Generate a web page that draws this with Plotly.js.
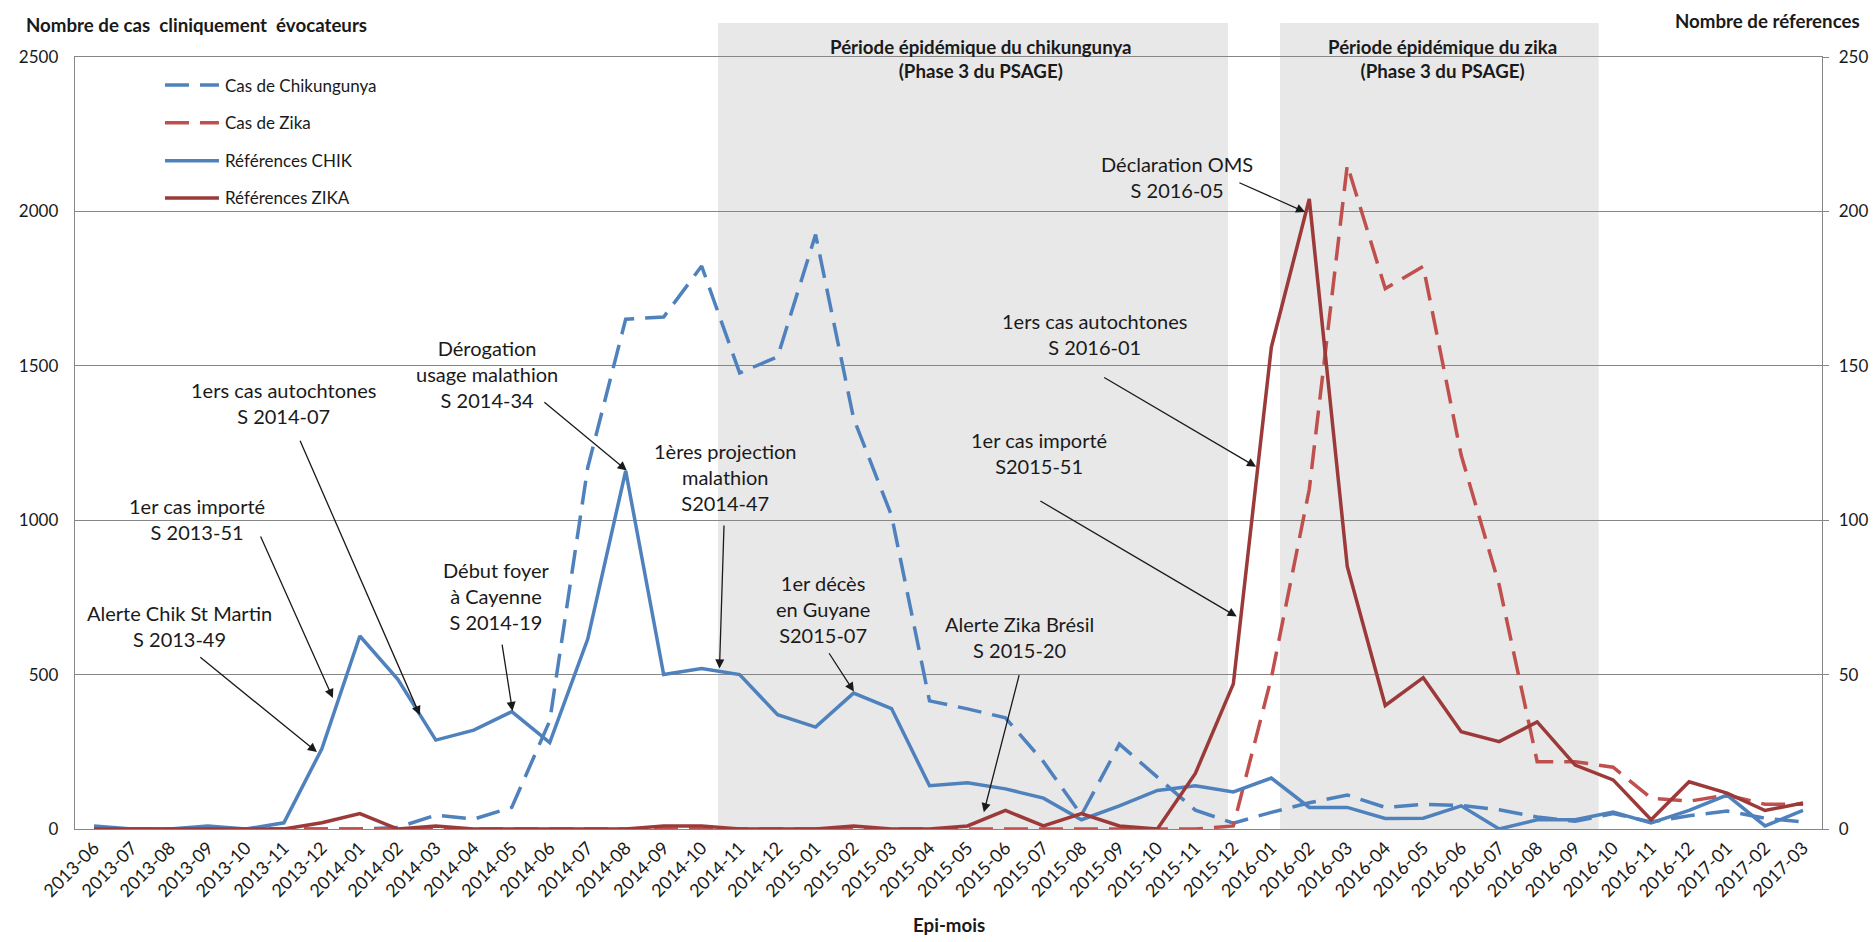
<!DOCTYPE html>
<html><head><meta charset="utf-8">
<script src="https://cdn.plot.ly/plotly-3.0.1.min.js"></script>
<style>html,body{margin:0;padding:0;background:#fff}</style>
</head><body><div id="chart" style="width:1875px;height:942px"></div>
<script>
const months = ['2013-06','2013-07','2013-08','2013-09','2013-10','2013-11','2013-12',
  '2014-01','2014-02','2014-03','2014-04','2014-05','2014-06','2014-07','2014-08','2014-09','2014-10','2014-11','2014-12',
  '2015-01','2015-02','2015-03','2015-04','2015-05','2015-06','2015-07','2015-08','2015-09','2015-10','2015-11','2015-12',
  '2016-01','2016-02','2016-03','2016-04','2016-05','2016-06','2016-07','2016-08','2016-09','2016-10','2016-11','2016-12',
  '2017-01','2017-02','2017-03'];
const casChik = [0,0,0,0,0,0,0,0,5,45,32,70,350,1170,1651,1658,1823,1477,1529,1925,1330,1015,415,389,360,218,45,275,168,61,19,54,85,110,70,80,76,62,39,25,50,23,43,58,35,23];
const casZika = [0,0,0,0,0,0,0,0,0,0,0,0,0,0,0,0,0,0,0,0,0,0,0,0,0,0,0,0,0,0,10,489,1100,2150,1750,1822,1210,790,218,218,200,100,90,110,80,80];
const refsChik = [1,0,0,1,0,2,26,62.5,48.5,28.8,32,38,28,61.5,116,50,52,50,37,33,44,39,14,15,13,10,3,7.5,12.5,14,12,16.5,7,7,3.4,3.5,7.5,0,3,3,5.5,2,6,11,1,6];
const refsZika = [0,0,0,0,0,0,2,5,0,1,0,0,0,0,0,1,1,0,0,0,1,0,0,1,6,1,5,1,0,18,47,156,204,85,40,49,31.5,28.3,34.7,20.7,15.9,3,15.3,11.6,6,8.4];
const seriesNames = ['Cas de Chikungunya','Cas de Zika','Références CHIK','Références ZIKA'];
const periodTitles = ['<b>Période épidémique du chikungunya<br>(Phase 3 du PSAGE)</b>','<b>Période épidémique du zika<br>(Phase 3 du PSAGE)</b>'];
const eventLabels = ['Alerte Chik St Martin<br>S 2013-49','1er cas importé<br>S 2013-51','1ers cas autochtones<br>S 2014-07',
  'Dérogation<br>usage malathion<br>S 2014-34','Début foyer<br>à Cayenne<br>S 2014-19','1ères projection<br>malathion<br>S2014-47',
  '1er décès<br>en Guyane<br>S2015-07','Alerte Zika Brésil<br>S 2015-20','Déclaration OMS<br>S 2016-05',
  '1ers cas autochtones<br>S 2016-01','1er cas importé<br>S2015-51'];

const FONT = 'Lato, "Open Sans", sans-serif';
const TXT = '#1a1a1a';
const BLUE = '#4f81bd', RED = '#c0504d', DRED = '#9c3a3a';
const DASH = '24px,11px';
const BOLD = 18.7;

// layout-only placement of the period bands, legend and annotation geometry
const periodBands = [[16.43, 29.86], [31.23, 39.62]];
const periodTitleX = [0.5186, 0.7825];
const legendRowsY = [0.9637, 0.9149, 0.8657, 0.8174];
const legendStyles = [{color:BLUE, dash:DASH}, {color:RED, dash:DASH}, {color:BLUE, dash:'solid'}, {color:DRED, dash:'solid'}];
const eventText = [[2.26,659],[2.71,1004],[4.98,1380],[10.35,1472],[10.61,755],[16.63,1140],[19.19,714],[24.38,622],[28.52,2110],[26.35,1603],[24.88,1218]];
const eventArrow = [[5.87,249,2.76,560],[6.29,424,4.37,952],[8.58,369,5.41,1262],[14.03,1161,11.82,1386],[11.02,382,10.74,602],
  [16.47,520,16.59,988],[20.01,445,19.33,574],[23.43,54,24.37,503],[31.89,1998,30.12,2095],[30.6,1173,26.56,1465],[30.09,688,24.88,1065]];

const traces = [
  {x: months, y: casChik, name: seriesNames[0], type:'scatter', mode:'lines', yaxis:'y',
   line:{color:BLUE, width:3.5, dash:DASH}},
  {x: months, y: casZika, name: seriesNames[1], type:'scatter', mode:'lines', yaxis:'y',
   line:{color:RED, width:3.5, dash:DASH}},
  {x: months, y: refsChik, name: seriesNames[2], type:'scatter', mode:'lines', yaxis:'y2',
   line:{color:BLUE, width:3.5}},
  {x: months, y: refsZika, name: seriesNames[3], type:'scatter', mode:'lines', yaxis:'y2',
   line:{color:DRED, width:3.5}}
];

const shapes = periodBands.map(b => ({type:'rect', xref:'x', yref:'paper', x0:b[0], x1:b[1], y0:0, y1:1.044,
  fillcolor:'#e8e8e8', line:{width:0}, layer:'below'}));
legendRowsY.forEach((yy,k) => shapes.push({type:'line', xref:'paper', yref:'paper', x0:0.0515, x1:0.0824, y0:yy, y1:yy,
  line:{color:legendStyles[k].color, width:3.5, dash:legendStyles[k].dash}, layer:'above'}));

const annotations = [];
seriesNames.forEach((n,k) => annotations.push({text:n, xref:'paper', yref:'paper', x:0.0847, y:legendRowsY[k],
  xanchor:'left', yanchor:'middle', showarrow:false, font:{family:FONT, size:17, color:TXT}}));
periodTitles.forEach((t,k) => annotations.push({text:t, xref:'paper', yref:'paper', x:periodTitleX[k], y:0.998,
  xanchor:'center', yanchor:'middle', showarrow:false, font:{family:FONT, size:BOLD, color:TXT}}));
eventLabels.forEach((t,k) => {
  annotations.push({text:t, xref:'x', yref:'y', x:eventText[k][0], y:eventText[k][1], xanchor:'center', yanchor:'middle',
    showarrow:false, font:{family:FONT, size:20, color:TXT}});
  const a = eventArrow[k];
  annotations.push({text:'', xref:'x', yref:'y', x:a[0], y:a[1], axref:'x', ayref:'y', ax:a[2], ay:a[3],
    showarrow:true, arrowhead:2, arrowsize:1.4, arrowwidth:1.3, arrowcolor:'#1a1a1a', standoff:0});
});
annotations.push({text:'<b>Nombre de cas  cliniquement  évocateurs</b>', xref:'paper', yref:'paper', x:-0.0292, y:1.0415,
  xanchor:'left', yanchor:'middle', showarrow:false, font:{family:FONT, size:BOLD, color:TXT}});
annotations.push({text:'<b>Nombre de réferences</b>', xref:'paper', yref:'paper', x:1.0229, y:1.0466,
  xanchor:'right', yanchor:'middle', showarrow:false, font:{family:FONT, size:BOLD, color:TXT}});
annotations.push({text:'<b>Epi-mois</b>', xref:'paper', yref:'paper', x:0.5, y:-0.124,
  xanchor:'center', yanchor:'middle', showarrow:false, font:{family:FONT, size:BOLD, color:TXT}});

const layout = {
  width:1875, height:942,
  margin:{l:75, r:53, t:57, b:113},
  paper_bgcolor:'#fff', plot_bgcolor:'rgba(0,0,0,0)',
  font:{family:FONT, size:17, color:TXT},
  showlegend:false,
  xaxis:{type:'category', categoryorder:'array', categoryarray:months, range:[-0.5,45.5], tickangle:-45,
    showgrid:false, showline:true, mirror:true, linecolor:'#868686', linewidth:1.3, ticks:'',
    tickfont:{family:FONT, size:18, color:TXT}, fixedrange:true},
  yaxis:{range:[0,2500], dtick:500, tick0:0, showgrid:true, gridcolor:'#868686', gridwidth:1.3, zeroline:false,
    showline:true, linecolor:'#868686', linewidth:1.3, ticks:'', ticklabelstandoff:12,
    tickfont:{family:FONT, size:17, color:TXT}},
  yaxis2:{range:[0,250], dtick:50, tick0:0, overlaying:'y', side:'right', showgrid:false, zeroline:false,
    showline:true, linecolor:'#868686', linewidth:1.3, ticks:'outside', ticklen:6, tickcolor:'#868686',
    ticklabelstandoff:6, tickfont:{family:FONT, size:17, color:TXT}},
  shapes:shapes,
  annotations:annotations
};

Plotly.newPlot('chart', traces, layout, {staticPlot:true, displayModeBar:false});
</script></body></html>
